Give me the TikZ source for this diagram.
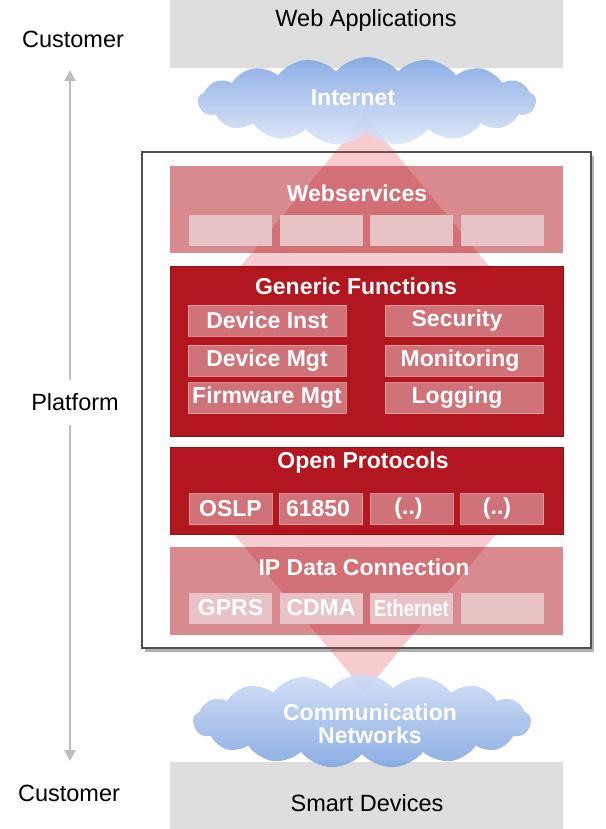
\documentclass[tikz,border=0pt]{standalone}
\usepackage{fontspec}
\setmainfont{Liberation Sans}
\usetikzlibrary{shapes.symbols,shadows,arrows.meta}
\definecolor{boxred}{HTML}{B2161E}
\definecolor{boxredborder}{HTML}{8C1016}
\definecolor{gbox}{HTML}{DEDEDE}
\definecolor{cloudA}{HTML}{80A6E2}
\definecolor{cloudB}{HTML}{DDE7F8}
\definecolor{tri}{HTML}{E03C44}
\definecolor{arrowgray}{HTML}{BEBEBE}
\definecolor{framegray}{HTML}{505050}
\definecolor{pinkline}{HTML}{E8A5A8}
\definecolor{cellpink}{HTML}{E8C3C5}
\tikzset{
  plain/.style={font=\fontsize{23.5}{27}\selectfont, text=black, inner sep=0pt},
  wtxt/.style={font=\fontsize{23}{26}\selectfont\bfseries, text=white, inner sep=0pt},
  graybox/.style={fill=gbox, draw=none, minimum width=393pt, inner sep=0pt},
  lightlayer/.style={fill=boxred, fill opacity=0.5, draw=none, minimum width=393pt, inner sep=0pt},
  darklayer/.style={fill=boxred, draw=boxredborder, line width=1pt, minimum width=393pt, inner sep=0pt},
  lightcell/.style={fill=cellpink, draw=none, minimum width=83pt, minimum height=31pt, inner sep=0pt, font=\fontsize{23}{26}\selectfont\bfseries, text=white},
  darkcell/.style={fill=white, fill opacity=0.4, draw=pinkline, draw opacity=0.8, line width=0.8pt, minimum height=31pt, inner sep=0pt, font=\fontsize{23}{26}\selectfont\bfseries, text=white, text opacity=1},
  cloudnode/.style={cloud, cloud puffs=17, cloud puff arc=100, aspect=3.7, inner sep=0pt, draw=none, opacity=0.9},
  trishape/.style={fill=tri, fill opacity=0.26, draw=none},
  platarrow/.style={draw=arrowgray, line width=2.6pt, -{Triangle[width=11pt,length=11pt]}},
}
\begin{document}
\begin{tikzpicture}[x=1pt, y=-1pt]
\useasboundingbox[fill=white] (0,0) rectangle (605,829);

% top and bottom gray boxes
\node[graybox, minimum height=68pt] (webapp) at (366.5,34) {};
\node[plain] (webappt) at (366,20) {Web Applications};
\node[graybox, minimum height=67pt] (smart) at (366.5,795.5) {};
\node[plain] (smartt) at (367,803) {Smart Devices};

% customer / platform
\node[plain] (cust1) at (73,39) {Customer};
\node[plain] (cust2) at (69,793) {Customer};
\node[plain] (plat) at (75,402) {Platform};
\coordinate (ptop) at (70,380);
\coordinate (pbot) at (70,425);
\coordinate (atop) at (70,70);
\coordinate (abot) at (70,761);
\draw[platarrow] (ptop) -- (atop);
\draw[platarrow] (pbot) -- (abot);

% frame
\node[draw=framegray, line width=1.8pt, fill=white, minimum width=449pt, minimum height=496pt, inner sep=0pt,
      drop shadow={shadow xshift=3pt, shadow yshift=-4pt, fill=black!60, opacity=0.5}] (frame) at (366.5,400) {};

% triangles
\coordinate (t1) at (365,116);
\coordinate (t1l) at (213,300);
\coordinate (t1r) at (517,300);
\coordinate (t2) at (365,692);
\coordinate (t2l) at (189,480);
\coordinate (t2r) at (541,480);
\fill[trishape] (t1) -- (t1r) -- (t1l) -- cycle;
\fill[trishape] (t2) -- (t2r) -- (t2l) -- cycle;

% clouds
\node[cloudnode, minimum width=338pt, minimum height=88pt, top color=cloudA, bottom color=cloudB] (inet) at (367,101) {};
\node[cloudnode, minimum width=338pt, minimum height=94pt, top color=cloudB!85!cloudA, bottom color=cloudA] (comm) at (362,721) {};

\node[wtxt] (inett) at (353,98) {Internet};
\node[wtxt, align=center] (commt) at (370,724) {Communication\\[-3pt]Networks};

% Webservices
\node[lightlayer, minimum height=87pt] (ws) at (366.5,209.5) {};
\node[wtxt] (wst) at (357,193) {Webservices};
\node[lightcell] (ws1) at (230.5,230.5) {};
\node[lightcell] (ws2) at (321,230.5) {};
\node[lightcell] (ws3) at (411.5,230.5) {};
\node[lightcell] (ws4) at (502,230.5) {};

% Generic Functions
\node[darklayer, minimum height=170pt] (gf) at (366.5,351) {};
\node[wtxt] (gft) at (356,286) {Generic Functions};
\node[darkcell, minimum width=158pt] (g1) at (267,320.5) {Device Inst};
\node[darkcell, minimum width=158pt] (g2) at (267,360.5) {Device Mgt};
\node[darkcell, minimum width=158pt] (g3) at (267,398) {Firmware Mgt};
\node[darkcell, minimum width=158pt] (g4) at (464,320.5) {\hspace*{-14pt}Security};
\node[darkcell, minimum width=158pt] (g5) at (464,360.5) {\hspace*{-8pt}Monitoring};
\node[darkcell, minimum width=158pt] (g6) at (464,398) {\hspace*{-14pt}Logging};

% Open Protocols
\node[darklayer, minimum height=87pt] (op) at (366.5,490.5) {};
\node[wtxt] (opt) at (363,463) {Open Protocols};
\node[darkcell, minimum width=83pt] (o1) at (230.5,509) {OSLP};
\node[darkcell, minimum width=83pt] (o2) at (321,509) {\hspace*{-6pt}61850};
\node[darkcell, minimum width=83pt] (o3) at (411.5,509) {\hspace*{-6pt}(..)};
\node[darkcell, minimum width=83pt] (o4) at (502,509) {\hspace*{-10pt}(..)};

% IP Data Connection
\node[lightlayer, minimum height=88pt] (ip) at (366.5,591) {};
\node[wtxt] (ipt) at (364,567) {IP Data Connection};
\node[lightcell] (i1) at (230.5,608) {GPRS};
\node[lightcell] (i2) at (321,608) {CDMA};
\node[lightcell] (i3) at (411.5,608) {\scalebox{0.8}[1]{Ethernet}};
\node[lightcell] (i4) at (502,608) {};
\end{tikzpicture}
\end{document}
